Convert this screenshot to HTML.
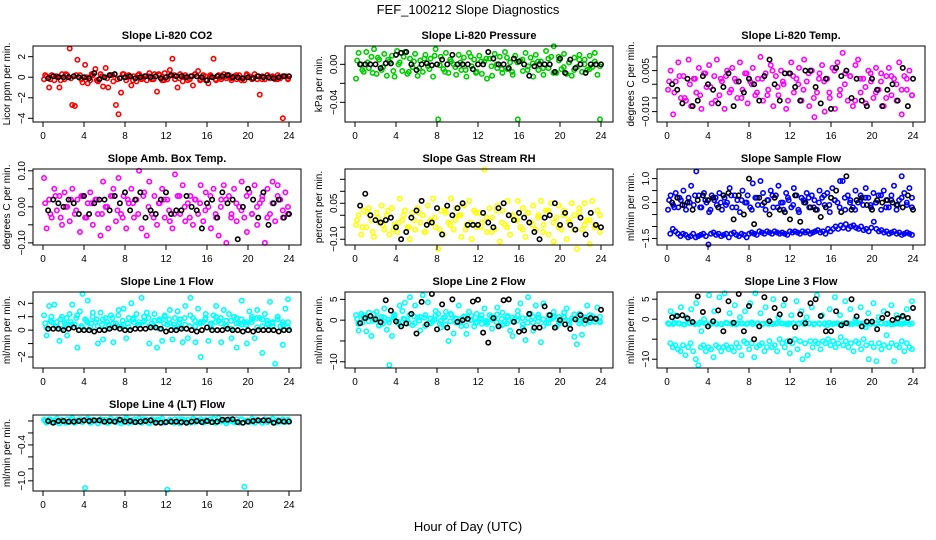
<!DOCTYPE html>
<html><head><meta charset="utf-8"><style>
html,body{margin:0;padding:0;background:#fff;}
svg{display:block;font-family:"Liberation Sans",sans-serif;}
</style></head><body>
<svg id="chart" width="936" height="540" viewBox="0 0 936 540">
<text x="468" y="14" text-anchor="middle" font-size="13">FEF_100212  Slope Diagnostics</text>
<text x="468" y="531" text-anchor="middle" font-size="13">Hour of Day (UTC)</text>
</svg>
<script>
const xTicks = [0,4,8,12,16,20,24];

const co2Color = [-0.2,0.1,-1.0,0.2,-0.3,0.1,-1.0,0.3,-0.2,0.2,2.8,-2.7,-2.8,1.7,0.2,-0.5,1.2,-0.6,-0.3,0.2,0.8,-0.4,0.3,-0.9,0.9,-1.0,0.2,-0.4,-2.7,-3.6,-1.5,0.3,-0.3,0.2,-0.8,0.1,-0.4,0.3,-0.2,0.1,-0.3,0.4,-0.2,0.3,-1.4,0.2,-0.3,0.4,-0.2,0.7,1.8,-0.2,-1.0,0.3,-0.4,0.2,-0.3,0.1,-0.8,0.3,0.6,-0.2,0.2,-0.3,-0.6,0.1,1.8,-0.3,0.2,-0.2,0.3,-0.1,0.2,-0.3,0.1,-0.2,0.2,-0.1,-0.3,0.2,0.1,-0.2,0.3,-0.2,-1.7,0.1,-0.2,0.2,-0.1,0.1,-0.2,0.2,-0.1,-4.0,0.1,-0.2];
const co2Band = [0.2,-0.2,0.1,-0.3,0.3,-0.1,0.2,-0.2,0.0,0.3,-0.3,0.1,-0.1,0.2,-0.2,0.3,0.0,-0.3,0.2,-0.1,0.1,-0.2,0.3,-0.3,0.1,0.2,-0.1,0.0,-0.2,0.3,-0.3,0.1,0.2,-0.2,0.0,0.1,-0.1,0.2,-0.3,0.3,-0.1,0.1,-0.2,0.2,0.0,-0.2,0.1,-0.1];
const co2Black = [-0.1,0.1,0,0,0,0.1,0,0,-0.1,0.4,-0.2,0,0.2,0.3,-0.1,0,0.1,-0.1,0,0.1,0,0.1,-0.1,0,0.2,0.1,0.1,0,0.1,0.1,0,-0.3,0,0.1,0.1,0.2,0,0,-0.1,0,-0.1,0.1,0,0,-0.1,0,0.1,0.1];

const presColor = [-0.015,0.012,0.0,-0.008,0.013,-0.004,0.008,0.016,-0.01,0.005,-0.006,0.011,-0.012,0.003,0.009,-0.013,0.014,0.002,-0.007,0.013,-0.01,0.006,-0.003,0.011,-0.012,0.004,-0.008,0.01,-0.002,0.006,-0.013,0.016,-0.058,0.008,-0.005,0.012,-0.009,0.003,0.0,-0.011,0.01,-0.006,0.007,-0.013,0.012,-0.002,0.005,-0.008,0.009,-0.01,0.003,-0.015,0.006,-0.012,0.011,-0.004,0.008,-0.009,0.013,-0.005,0.002,-0.011,0.009,-0.058,0.004,-0.007,0.012,-0.002,0.007,-0.013,0.01,-0.006,0.003,-0.011,0.014,-0.004,0.008,0.019,-0.009,0.004,-0.005,0.011,-0.01,0.002,-0.012,0.007,-0.003,0.01,-0.008,0.005,-0.006,0.009,-0.003,0.012,-0.011,-0.058];
const presBand = [0.004,-0.006,0.002,-0.009,0.007,-0.003,0.005,-0.007,0.0,0.008,-0.008,0.003,-0.004,0.006,-0.005,0.009,-0.001,-0.008,0.005,-0.003,0.002,-0.006,0.008,-0.009,0.003,0.006,-0.002,0.0,-0.005,0.007,-0.008,0.002,0.005,-0.006,0.001,0.003,-0.004,0.006,-0.009,0.008,-0.003,0.002,-0.006,0.005,0.0,-0.005,0.003,-0.002];
const presBlack = [0,0,0,0,-0.004,0.001,0.001,0.01,0.012,0.013,0.0,-0.006,0.0,0.001,-0.001,0.0,0.005,0.0,0.01,0.0,0.0,0.0,-0.005,0.0,0.0,0.013,0.006,0.0,0.0,-0.004,0.006,0.003,0.0,-0.012,-0.002,0.0,0.0,0.0,-0.008,0.006,-0.009,0.005,-0.004,0.0,-0.009,0.0,0.0,0.0];

const tempColor = [-0.002,0.005,-0.011,0.001,0.008,-0.005,0.003,-0.006,0.009,-0.008,0.002,-0.003,0.006,-0.009,0.004,-0.001,0.007,-0.007,0.003,0.009,-0.004,0.001,-0.009,0.005,-0.003,0.006,0.002,-0.005,0.008,-0.002,0.004,-0.007,0.001,0.006,-0.004,0.002,0.01,-0.006,0.004,-0.002,0.007,-0.008,0.003,-0.004,0.005,0.0,-0.009,0.004,0.008,-0.003,0.002,0.006,-0.006,0.009,0.001,-0.008,0.005,-0.012,-0.003,0.004,0.007,-0.01,0.002,-0.005,0.006,-0.009,0.008,-0.002,0.0115,0.004,-0.006,0.003,-0.008,0.007,0.009,-0.003,0.002,-0.007,0.005,0.001,-0.005,0.006,-0.002,0.004,-0.008,0.003,0.006,-0.004,0.002,-0.006,0.008,-0.011,0.003,-0.002,0.005,-0.004];
const tempBand = [0.001,-0.003,0.003,-0.005,0.0,0.002,-0.004,0.004,-0.001,-0.006,0.002,0.003,-0.002,0.001,-0.005,0.004,0.0,-0.003,0.002,-0.004,0.005,-0.001,0.001,-0.006,0.003,0.0,-0.002,0.004,-0.005,0.002,0.001,-0.003,0.005,-0.004,0.0,0.003,-0.006,0.002,-0.001,0.004,-0.003,0.001,-0.005,0.003,0.0,-0.002,0.002,-0.004];
const tempBlack = [0,-0.002,-0.007,0.002,-0.008,-0.006,0.003,0.0,-0.002,-0.007,-0.001,0.004,-0.008,0.001,-0.003,0.002,0.0,-0.006,0.003,0.009,0.0,-0.006,0.004,0.004,-0.001,-0.006,0.005,0.005,-0.001,-0.007,0.002,-0.009,0.006,0.003,0.005,-0.005,0.002,-0.006,-0.008,0.002,-0.002,-0.008,-0.002,0.0,-0.006,0.006,-0.008,0.002];

const ambColor = [0.08,-0.06,0.02,-0.03,0.05,-0.01,0.03,-0.05,0.04,0.0,-0.04,0.05,-0.02,0.02,-0.07,0.03,-0.03,0.01,0.04,-0.05,0.02,-0.02,-0.08,0.07,0.0,-0.06,0.03,0.05,-0.04,0.08,-0.02,0.03,-0.06,0.01,0.05,-0.03,0.02,0.1,-0.06,0.04,-0.08,0.07,-0.02,0.03,-0.05,0.01,0.05,-0.03,0.02,-0.04,-0.06,0.09,0.03,-0.02,0.06,-0.04,0.01,0.03,-0.05,0.02,-0.02,0.06,-0.04,0.04,0.0,-0.06,0.05,-0.03,-0.08,0.02,0.06,-0.1,0.03,-0.02,0.05,-0.04,0.0,0.07,-0.03,-0.07,0.04,-0.02,0.06,-0.05,0.01,0.03,-0.1,0.05,-0.02,0.07,-0.04,0.06,0.02,-0.03,0.04,0.0];
const ambBand = [0.01,-0.02,0.03,-0.03,0.0,0.02,-0.01,0.03,-0.03,0.01,0.02,-0.02,0.0,0.03,-0.01,-0.03,0.02,0.01,-0.02,0.03,0.0,-0.03,0.01,0.02,-0.01,-0.02,0.03,0.0,-0.03,0.02,0.01,-0.01,0.03,-0.02,0.0,0.02,-0.03,0.01,-0.01,0.03,-0.02,0.0,0.02,-0.03,0.01,0.03,-0.01,-0.02];
const ambBlack = [-0.01,0.02,0.01,0.0,0.02,0.01,-0.02,0.03,-0.02,0.01,0.02,0.02,-0.01,0.03,0.01,0.04,-0.01,0.02,0.04,-0.03,-0.01,-0.02,0.02,0.04,-0.02,-0.01,-0.01,0.03,0.0,-0.01,-0.06,0.01,0.02,-0.03,0.04,0.01,0.02,-0.09,0.0,0.05,0.02,-0.03,0.04,-0.05,0.01,0.02,-0.03,-0.02];

const rhColor = [-0.04,0.0,-0.08,0.02,-0.05,0.03,-0.02,-0.09,0.01,-0.03,0.04,-0.06,0.0,-0.08,0.03,-0.04,-0.07,0.07,-0.02,0.02,-0.05,-0.1,0.01,-0.06,0.03,-0.03,0.0,-0.07,0.04,-0.02,0.07,-0.05,-0.14,0.02,-0.08,0.01,-0.03,0.07,-0.06,0.03,0.0,-0.09,0.04,-0.04,0.06,-0.1,0.02,-0.05,0.01,-0.03,0.19,-0.07,0.03,-0.01,-0.06,0.04,-0.11,0.02,-0.04,0.06,-0.08,0.0,-0.02,0.06,-0.05,0.03,-0.09,0.01,-0.03,0.04,-0.06,0.0,0.06,-0.04,0.02,-0.08,0.05,-0.11,-0.01,0.04,-0.06,0.02,-0.1,-0.03,0.05,0.0,-0.14,0.03,-0.06,0.05,-0.02,-0.12,0.06,-0.04,0.02,-0.07];
const rhBand = [-0.02,-0.05,0.01,-0.07,-0.01,-0.04,0.02,-0.06,-0.03,0.0,-0.05,-0.02,0.01,-0.07,-0.03,-0.01,-0.06,0.02,-0.04,-0.02,0.0,-0.06,-0.03,0.01,-0.05,-0.01,-0.07,0.02,-0.03,-0.05,0.0,-0.02,-0.06,0.01,-0.04,-0.01,-0.07,0.02,-0.03,-0.05,0.0,-0.02,-0.06,0.01,-0.04,-0.02,-0.05,0.0];
const rhBlack = [0.04,0.09,0.0,-0.02,-0.03,-0.02,-0.01,-0.05,-0.1,-0.07,-0.01,0.02,0.06,-0.04,-0.03,0.03,-0.08,0.04,0.0,0.03,0.05,-0.04,-0.04,-0.04,0.01,-0.03,-0.05,0.03,0.05,0.0,-0.02,0.01,-0.01,-0.03,-0.07,-0.1,-0.01,0.0,0.05,-0.04,0.01,-0.04,-0.06,-0.01,-0.08,0.01,-0.04,-0.05];

const sampleUpper = [-0.3,0.3,-0.1,0.4,-0.2,0.1,0.5,-0.3,0.2,0.7,-0.1,1.3,0.3,-0.2,0.4,0.0,-0.4,0.3,0.1,-0.1,0.4,-0.3,0.2,0.0,0.6,-0.2,0.3,0.1,-0.4,0.5,0.0,0.3,-0.2,0.8,0.2,-0.1,0.9,0.4,-0.3,0.1,0.5,-0.2,0.3,0.7,0.0,-0.3,0.4,0.1,-0.2,0.6,0.3,-0.4,0.2,0.0,0.4,-0.2,0.3,0.1,-0.3,0.5,0.2,-0.1,0.4,-0.4,0.6,0.1,0.0,0.9,0.9,-0.3,0.3,0.1,-0.2,0.5,0.0,0.3,-0.1,0.6,0.2,-0.2,0.4,0.0,0.3,-0.3,0.5,0.1,-0.2,0.3,0.7,-0.3,0.1,1.1,0.4,-0.1,0.6,0.2];
const sampleBand = [0.1,-0.2,0.2,-0.1,0.0,0.3,-0.2,0.1,-0.3,0.2,0.0,-0.1,0.3,-0.2,0.1,0.0,-0.3,0.2,-0.1,0.1,0.3,-0.2,0.0,0.2,-0.1,-0.3,0.1,0.2,-0.2,0.0,0.3,-0.1,0.1,-0.2,0.2,0.0,-0.3,0.1,0.2,-0.1,0.0,0.3,-0.2,0.1,-0.1,0.2,0.0,-0.2];
const sampleLower = [-1.3,-1.1,-1.2,-1.3,-1.4,-1.3,-1.35,-1.45,-1.4,-1.3,-1.45,-1.4,-1.35,-1.3,-1.4,-1.75,-1.3,-1.25,-1.35,-1.3,-1.4,-1.35,-1.3,-1.45,-1.3,-1.25,-1.35,-1.4,-1.3,-1.35,-1.45,-1.3,-1.25,-1.3,-1.35,-1.2,-1.25,-1.3,-1.2,-1.25,-1.3,-1.2,-1.25,-1.3,-1.25,-1.3,-1.35,-1.2,-1.25,-1.2,-1.25,-1.3,-1.2,-1.25,-1.2,-1.3,-1.25,-1.2,-1.15,-1.25,-1.2,-1.3,-1.1,-1.2,-1.1,-1.0,-1.1,-0.95,-1.05,-0.9,-1.1,-1.0,-0.95,-1.05,-1.1,-1.0,-1.15,-1.1,-1.2,-1.05,-0.8,-1.1,-1.2,-1.15,-1.25,-1.2,-1.3,-1.25,-1.2,-1.3,-1.25,-1.35,-1.3,-1.25,-1.3,-1.35];
const sampleBlack = [0.0,0.2,-0.1,0.0,-0.3,0.1,0.3,0.1,0.2,-0.2,0.3,0.4,-0.7,0.3,-0.5,1.0,-0.9,0.2,0.0,-0.5,0.2,-0.3,-0.4,-0.7,0.3,-0.8,0.0,-0.2,-0.3,-0.6,-0.2,0.2,0.5,-0.4,1.1,-0.3,0.1,0.2,-0.1,-0.3,0.1,0.0,0.1,0.0,-0.1,-0.2,0.3,-0.3];

const line1Color = [1.1,-0.4,1.8,0.6,1.9,0.3,-0.8,1.0,0.5,-0.4,1.2,1.9,0.4,-1.3,1.4,2.7,0.8,2.2,0.2,1.3,0.6,-1.0,1.3,-0.7,0.9,0.4,1.1,-0.9,0.5,1.5,0.3,1.6,-0.6,0.9,2.0,0.6,1.2,0.4,2.4,0.7,1.3,-1.0,0.5,1.2,-1.3,0.8,-0.8,1.1,0.4,1.5,-0.7,0.9,1.4,0.2,-0.9,1.8,-0.6,2.4,0.9,-0.9,1.6,-2.0,0.6,1.2,-0.8,0.5,1.1,1.8,0.7,-0.9,1.5,0.3,1.2,-0.6,1.0,-1.3,0.5,2.2,0.6,-1.0,1.4,0.8,-0.6,1.5,0.9,-1.7,1.2,0.4,2.1,0.6,-2.5,1.0,0.3,-1.1,1.6,2.3];
const line1Band = [0.5,0.7,0.3,0.8,0.4,0.6,0.9,0.3,0.7,0.5,0.8,0.4,0.6,0.9,0.3,0.7,0.5,0.8,0.4,0.6,0.9,0.3,0.7,0.5,0.8,0.4,0.6,0.9,0.3,0.7,0.5,0.8,0.4,0.6,0.9,0.3,0.7,0.5,0.8,0.4,0.6,0.9,0.3,0.7,0.5,0.8,0.4,0.6];
const line1Band2 = [0.2,1.0,0.6,0.1,0.9,0.4,1.1,0.2,0.6,1.0,0.3,0.8,0.1,0.5,1.1,0.4,0.2,0.9,0.6,1.0,0.3,0.7,0.1,1.0,0.5,0.2,0.8,0.4,1.1,0.3,0.6,0.9,0.2,1.0,0.5,0.7,0.1,0.9,0.4,0.6,1.0,0.2,0.8,0.5,0.3,1.0,0.6,0.2];
const line1Black = [0.1,0.1,0.1,0.0,0.1,0.2,0.0,0.0,0.0,-0.1,0.0,0.0,0.1,0.2,0.1,0.0,0.0,0.1,0.1,0.1,0.2,0.2,0.1,-0.1,0.0,0.0,0.1,0.1,0.0,-0.1,0.0,0.2,0.0,0.0,0.0,0.1,0.0,0.0,-0.1,0.0,-0.1,0.0,0.0,0.0,0.0,-0.1,0.0,0.0];

const line2Color = [1.2,-2.5,1.5,0.5,-2.7,1.8,-3.8,0.3,2.0,-1.3,0.8,2.8,-2.3,-10.8,-3.8,1.0,-0.5,3.5,2.2,4.2,0.0,5.5,-1.2,3.5,0.6,-2.5,6.0,1.2,4.3,-0.8,-0.2,2.2,1.5,-1.8,0.5,2.0,-5.0,1.3,-3.2,0.4,3.5,-1.4,0.9,-3.3,2.0,0.1,-1.5,1.5,0.3,-0.9,2.8,-0.5,1.2,-2.0,0.6,3.0,-1.2,1.8,-0.4,1.0,-2.5,-3.8,0.5,2.2,4.0,-1.8,-4.8,5.5,1.5,-2.5,3.5,0.6,-5.3,4.0,-0.6,1.2,0.3,2.0,-1.6,0.8,-0.3,1.8,2.8,-0.8,0.4,-4.0,-5.8,1.5,-3.5,0.2,3.5,-0.5,1.0,0.5,3.0,-0.2];
const line2Band = [0.3,-0.6,0.8,-0.2,0.5,-0.8,0.1,0.7,-0.4,0.4,-0.7,0.9,-0.1,0.6,-0.5,0.2,-0.9,0.7,-0.3,0.5,-0.6,0.8,0.0,-0.7,0.4,-0.2,0.9,-0.5,0.3,-0.8,0.6,-0.1,0.5,-0.6,0.8,-0.3,0.2,-0.7,0.6,-0.4,0.9,-0.2,0.4,-0.8,0.7,-0.1,0.5,-0.5];
const line2Band2 = [-0.9,1.2,-0.3,1.5,-1.2,0.6,-0.5,1.4,-1.0,0.2,1.3,-0.7,0.8,-1.4,0.4,1.1,-0.2,-1.1,1.5,-0.6,0.3,-1.3,1.0,-0.4,1.2,-0.9,0.1,1.4,-1.2,0.7,-0.3,1.1,-1.0,0.5,-0.6,1.3,-1.4,0.2,1.0,-0.8,0.6,-1.1,1.4,-0.2,-0.9,1.2,-0.4,0.8];
const line2Black = [-0.7,0.5,1.0,0.2,-0.5,4.8,2.3,-0.3,-1.5,-0.8,1.5,-3.2,4.4,-1.0,6.3,-2.2,3.8,-1.8,5.0,-0.4,0.0,0.3,4.5,4.9,-3.0,-5.4,0.5,-1.5,4.8,5.0,-0.4,-2.8,-2.5,1.5,-1.8,-1.8,3.3,1.2,-1.8,0.0,-1.0,-2.1,0.2,1.2,0.0,0.5,0.3,2.5];

const line3Upper = [-1,2,-1.2,1,-1,3,-1.3,0.5,-0.8,2.5,-1,4,-1.2,-3,0,-1.1,6,-1,2,-1.2,5.5,-1.3,6.5,-1,1.5,-1.2,3.5,-1,0.5,-1.1,2,-1,4,-1.2,6.5,-1,1.5,-1.1,3,-1.2,-1,5,-1.1,0.5,-1,3.5,-1.2,-1,1,-1.1,4.5,-1,2,-1.2,0.5,-1,3,-1.1,6,-1.2,1,-1,-1.5,2.5,-1.2,5.5,-1,1,-1.1,4.5,-1,2.5,-1.2,0,-1.1,3,-1,-2,1.5,-1.2,4,-1,0.5,-1.1,2,-1.2,-1,3.5,-1.2,1,-1.1,0.5,-1,2.5,-1.2,4.5];
const line3Band = [-1.2,-0.9,-1.1,-1.3,-1.0,-1.2,-0.8,-1.1,-1.3,-1.0,-1.2,-0.9,-1.1,-1.3,-1.0,-1.2,-0.8,-1.1,-1.3,-1.0,-1.2,-0.9,-1.1,-1.3,-1.0,-1.2,-0.8,-1.1,-1.3,-1.0,-1.2,-0.9,-1.1,-1.3,-1.0,-1.2,-0.8,-1.1,-1.3,-1.0,-1.2,-0.9,-1.1,-1.3,-1.0,-1.2,-0.8,-1.1];
const line3Lower = [-6,-7,-6.5,-7.5,-8,-6.5,-9,-7,-6,-8,-10,-11.5,-7,-6.5,-8,-7,-7.5,-9.5,-6.5,-7,-8,-7,-6.5,-7.5,-7,-8,-6,-7,-9,-5.5,-6,-7.5,-6,-9.5,-7,-6.5,-6,-8,-7,-5.5,-7,-6.5,-8,-5,-6,-7,-5.5,-8.5,-6,-5,-7.5,-5.5,-10,-6,-9,-5.5,-7,-5.5,-6,-7.5,-5.5,-6,-5,-6.5,-5.5,-7,-6,-4.5,-6.5,-5.5,-7,-6,-8,-5.5,-6,-7.5,-5,-6.5,-10,-6,-7,-10.5,-6,-7.5,-6.5,-4,-7,-6,-10.5,-6.5,-7,-5.5,-8,-6,-7,-7.5];
const line3Black = [0.5,0.8,1,0.2,-0.7,5.7,1.8,-1.8,-0.5,2.2,-3,4.5,-0.9,6.3,-3,3.3,-5,-1.8,5.5,-0.5,2.8,1.2,5,-5.5,-2,1.2,-1,4,5,0.8,-3,-3,2,-1.5,-1,5,0.7,-1.8,-0.6,-0.6,-2.5,0.3,1.3,-0.2,0.2,0.8,0.3,2.8];

const line4Color = [0.02,-0.03,0.03,-0.02,0.01,0.04,-0.04,0.02,-0.01,0.03,-0.02,0.05,-0.03,0.01,0.03,-0.02,-1.12,0.04,-0.03,0.02,0.01,-0.04,0.03,-0.01,0.02,-0.03,0.04,0.0,-0.02,0.03,-0.04,0.02,0.05,-0.03,0.01,0.03,-0.02,0.04,-0.03,0.01,0.02,-0.04,0.03,-0.01,0.02,-0.02,0.04,-0.03,-1.15,0.02,-0.02,0.03,0.0,-0.04,0.03,-0.01,0.02,-0.03,0.04,-0.02,0.01,0.03,-0.03,0.02,0.0,-0.02,0.04,-0.03,0.05,-0.01,0.02,-0.04,0.03,0.0,-0.02,0.03,-0.03,0.02,-1.1,0.01,-0.02,0.04,-0.03,0.02,0.0,-0.03,0.03,-0.02,0.01,0.04,-0.03,0.02,-0.01,0.03,-0.02,0.02];
const line4Band = [0.0,0.03,-0.02,0.01,-0.03,0.02,0.0,-0.01,0.03,-0.02,0.01,0.02,-0.03,0.0,0.03,-0.01,0.02,-0.02,0.0,0.03,-0.03,0.01,0.02,-0.01,0.0,-0.03,0.03,0.01,-0.02,0.02,0.0,-0.01,0.03,-0.03,0.01,0.0,0.02,-0.02,0.03,-0.01,0.0,0.02,-0.03,0.01,0.03,-0.02,0.0,0.01];
const line4Black = [0.0,-0.03,0.0,0.0,-0.01,-0.01,0.0,0.01,0.0,0.01,0.01,-0.01,0.0,-0.01,0.02,-0.01,0.0,-0.02,-0.01,0.0,0.01,-0.03,-0.03,-0.02,-0.01,-0.01,-0.02,-0.03,-0.01,0.0,-0.02,0.0,-0.02,-0.01,0.02,0.02,0.03,-0.02,-0.03,-0.01,0.0,0.01,0.01,0.01,-0.03,0.0,-0.01,-0.01];

const panels = [
 {name:'co2',title:'Slope Li-820 CO2',ylab:'Licor ppm per min.',col:0,row:0,ymin:-4.36,ymax:3.04,ticks:[2,0,-2,-4],labels:['2','0','\u22122','\u22124'],color:'#ff0000',series:[co2Color,co2Band],black:co2Black},
 {name:'pressure',title:'Slope Li-820 Pressure',ylab:'kPa per min.',col:1,row:0,ymin:-0.0607,ymax:0.0193,ticks:[0,-0.02,-0.04],labels:['0.00','','\u22120.04'],color:'#00cc00',series:[presColor,presBand],black:presBlack},
 {name:'temp',title:'Slope Li-820 Temp.',ylab:'degrees C per min.',col:2,row:0,ymin:-0.0138,ymax:0.014,ticks:[0.01,0.005,0,-0.005,-0.01],labels:['','0.005','','','\u22120.010'],color:'#ff00ff',series:[tempColor,tempBand],black:tempBlack},
 {name:'amb-box-temp',title:'Slope Amb. Box Temp.',ylab:'degrees C per min.',col:0,row:1,ymin:-0.106,ymax:0.105,ticks:[0.1,0.05,0,-0.05,-0.1],labels:['0.10','','0.00','','\u22120.10'],color:'#ff00ff',series:[ambColor,ambBand],black:ambBlack},
 {name:'gas-rh',title:'Slope Gas Stream RH',ylab:'percent per min.',col:1,row:1,ymin:-0.124,ymax:0.193,ticks:[0.15,0.1,0.05,0,-0.05,-0.1],labels:['','','0.05','','','\u22120.10'],color:'#ffff00',series:[rhColor,rhBand],black:rhBlack},
 {name:'sample-flow',title:'Slope Sample Flow',ylab:'ml/min per min.',col:2,row:1,ymin:-1.77,ymax:1.4,ticks:[1,0.5,0,-0.5,-1,-1.5],labels:['1.0','','0.0','','','\u22121.5'],color:'#0000ff',series:[sampleUpper,sampleBand,sampleLower],black:sampleBlack},
 {name:'line1-flow',title:'Slope Line 1 Flow',ylab:'ml/min per min.',col:0,row:2,ymin:-2.82,ymax:2.84,ticks:[2,1,0,-1,-2],labels:['2','1','0','','\u22122'],color:'#00ffff',series:[line1Color,line1Band,line1Band2],black:line1Black},
 {name:'line2-flow',title:'Slope Line 2 Flow',ylab:'ml/min per min.',col:1,row:2,ymin:-11.5,ymax:6.77,ticks:[5,0,-5,-10],labels:['5','0','','\u221210'],color:'#00ffff',series:[line2Color,line2Band,line2Band2],black:line2Black},
 {name:'line3-flow',title:'Slope Line 3 Flow',ylab:'ml/min per min.',col:2,row:2,ymin:-12.2,ymax:6.8,ticks:[5,0,-5,-10],labels:['5','0','','\u221210'],color:'#00ffff',series:[line3Upper,line3Band,line3Lower],black:line3Black},
 {name:'line4-flow',title:'Slope Line 4 (LT) Flow',ylab:'ml/min per min.',col:0,row:3,ymin:-1.17,ymax:0.10,ticks:[0,-0.2,-0.4,-0.6,-0.8,-1.0],labels:['','','\u22120.4','','','\u22121.0'],color:'#00ffff',series:[line4Color,line4Band],black:line4Black}
];

const NS='http://www.w3.org/2000/svg';
const svg=document.getElementById('chart');
function mk(tag,attrs,parent){const e=document.createElementNS(NS,tag);for(const k in attrs)e.setAttribute(k,attrs[k]);parent.appendChild(e);return e;}

panels.forEach(p=>{
  const L=33+p.col*312, R=L+268, T=46+p.row*123, B=T+76;
  const x0=L+10, x1=L+256;
  const xs=v=>x0+(v/24)*(x1-x0);
  const ys=v=>B-(v-p.ymin)/(p.ymax-p.ymin)*(B-T);
  const g=mk('g',{},svg);
  
  
  const t=mk('text',{x:(L+R)/2,y:T-7,'text-anchor':'middle','font-size':11,'font-weight':'bold'},g);
  t.textContent=p.title;
  
  
  const yl=mk('text',{x:0,y:0,'text-anchor':'middle','font-size':10,transform:`translate(${L-23},${(T+B)/2}) rotate(-90)`},g);
  yl.textContent=p.ylab;
  
  
  const pts=mk('g',{fill:'none','stroke-width':1.6},g);
  
  
  p.series.forEach((arr,si)=>{
    const n=arr.length;
    const off=si*0.11;
    arr.forEach((v,i)=>{
      const c=mk('circle',{cx:xs(0.1+off+i*(23.8-off)/(n-1)),cy:ys(v),r:2.2,stroke:p.color},pts);
      
      
    });
  });
  const nb=p.black.length;
  p.black.forEach((v,i)=>{
    const c=mk('circle',{cx:xs(0.5+i*23.5/(nb-1)),cy:ys(v),r:2.2,stroke:'#000'},pts);
    
    
  });
  const bx=mk('rect',{x:L,y:T,width:R-L,height:B-T,fill:'none',stroke:'#000','stroke-width':1},g);
  
  
  const xa=mk('g',{},g);
  
  
  mk('line',{x1:x0,x2:x1,y1:B,y2:B,stroke:'#000'},xa);
  xTicks.forEach(v=>{
    mk('line',{x1:xs(v),x2:xs(v),y1:B,y2:B+5,stroke:'#000'},xa);
    const tl=mk('text',{x:xs(v),y:B+17,'text-anchor':'middle','font-size':10},xa);
    tl.textContent=v;
    
    
  });
  const ya=mk('g',{},g);
  
  
  mk('line',{x1:L,x2:L,y1:ys(p.ticks[0]),y2:ys(p.ticks[p.ticks.length-1]),stroke:'#000'},ya);
  p.ticks.forEach((v,i)=>{
    const y=ys(v);
    mk('line',{x1:L-5,x2:L,y1:y,y2:y,stroke:'#000'},ya);
    if(p.labels[i]){
      const tl=mk('text',{x:0,y:0,'text-anchor':'middle','font-size':10,transform:`translate(${L-8},${y}) rotate(-90)`},ya);
      tl.textContent=p.labels[i];
      
      
    }
  });
});
</script>
</body></html>
